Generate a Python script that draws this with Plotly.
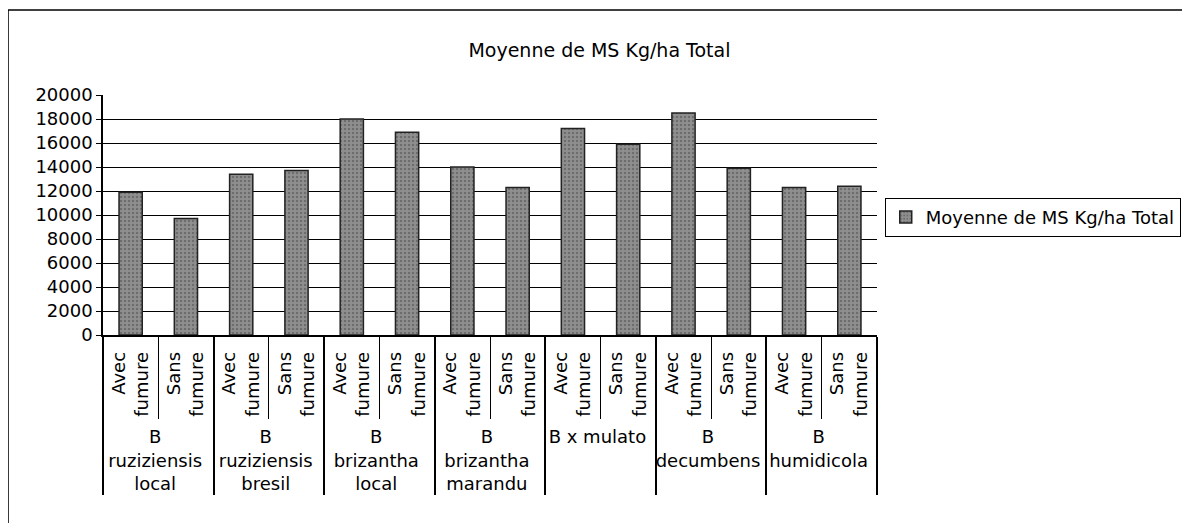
import plotly.graph_objects as go

# grass species (outer level) and fertiliser treatment (inner level)
species = ["B<br>ruziziensis<br>local", "B<br>ruziziensis<br>bresil", "B<br>brizantha<br>local",
           "B<br>brizantha<br>marandu", "B x mulato", "B<br>decumbens", "B<br>humidicola"]
treatments = ["Avec<br>fumure", "Sans<br>fumure"]

# mean dry matter, kg/ha
ms_total = [11900, 9700, 13400, 13700, 18000, 16900, 14000, 12300,
            17200, 15900, 18500, 13900, 12300, 12400]

y_ticks = list(range(0, 20001, 2000))

outer = [s for s in species for t in treatments]
inner = [t for s in species for t in treatments]

font = dict(family="DejaVu Sans", size=18, color="black")

fig = go.Figure(go.Bar(
    x=[outer, inner], y=ms_total,
    name="Moyenne de MS Kg/ha Total",
    marker=dict(color="#8f8f8f", line=dict(color="#222", width=1.5),
                pattern=dict(shape=".", fgcolor="#4a4a4a", size=4, solidity=0.3)),
    showlegend=True,
))

# the page body adds 8px, so margins are 8px smaller than the target positions
fig.update_layout(
    width=1190, height=523,
    margin=dict(l=95, r=321, t=87, b=196, autoexpand=False),
    paper_bgcolor="white", plot_bgcolor="white",
    font=font,
    title=dict(text="Moyenne de MS Kg/ha Total", x=0.497, xref="container",
               y=1 - 42 / 523, yanchor="middle", automargin=False,
               font=dict(family="DejaVu Sans", size=19, color="black")),
    bargap=0.58,
    legend=dict(x=1.01, y=0.49, xanchor="left", yanchor="middle",
                bordercolor="black", borderwidth=1, font=font,
                itemwidth=30),
)

fig.update_xaxes(
    type="multicategory", showline=True, linecolor="black", linewidth=1.5,
    tickangle=-90, ticks="outside", tickson="boundaries", ticklen=82,
    tickcolor="black", dividercolor="black", dividerwidth=1.5,
    ticklabelstandoff=8, tickfont=font, automargin=False,
)
fig.update_yaxes(
    range=[0, 20000], tickvals=y_ticks, tickformat="d", showline=True,
    linecolor="black", linewidth=1.5, ticks="outside", ticklen=5,
    tickcolor="black", showgrid=True, gridcolor="black", gridwidth=1,
    zeroline=False, tickfont=font, automargin=False,
)

# frame round the whole chart
fig.add_shape(type="line", xref="paper", yref="paper",
              x0=-0.1227, x1=1.3992, y0=1.354, y1=1.354, line=dict(color="black", width=1.5))
fig.add_shape(type="line", xref="paper", yref="paper",
              x0=-0.1227, x1=-0.1227, y0=1.354, y1=-0.82, line=dict(color="black", width=1.5))
fig.add_shape(type="line", xref="paper", yref="paper",
              x0=1.3992, x1=1.3992, y0=1.354, y1=-0.27, line=dict(color="black", width=1.5))

fig.write_html("out.html")
